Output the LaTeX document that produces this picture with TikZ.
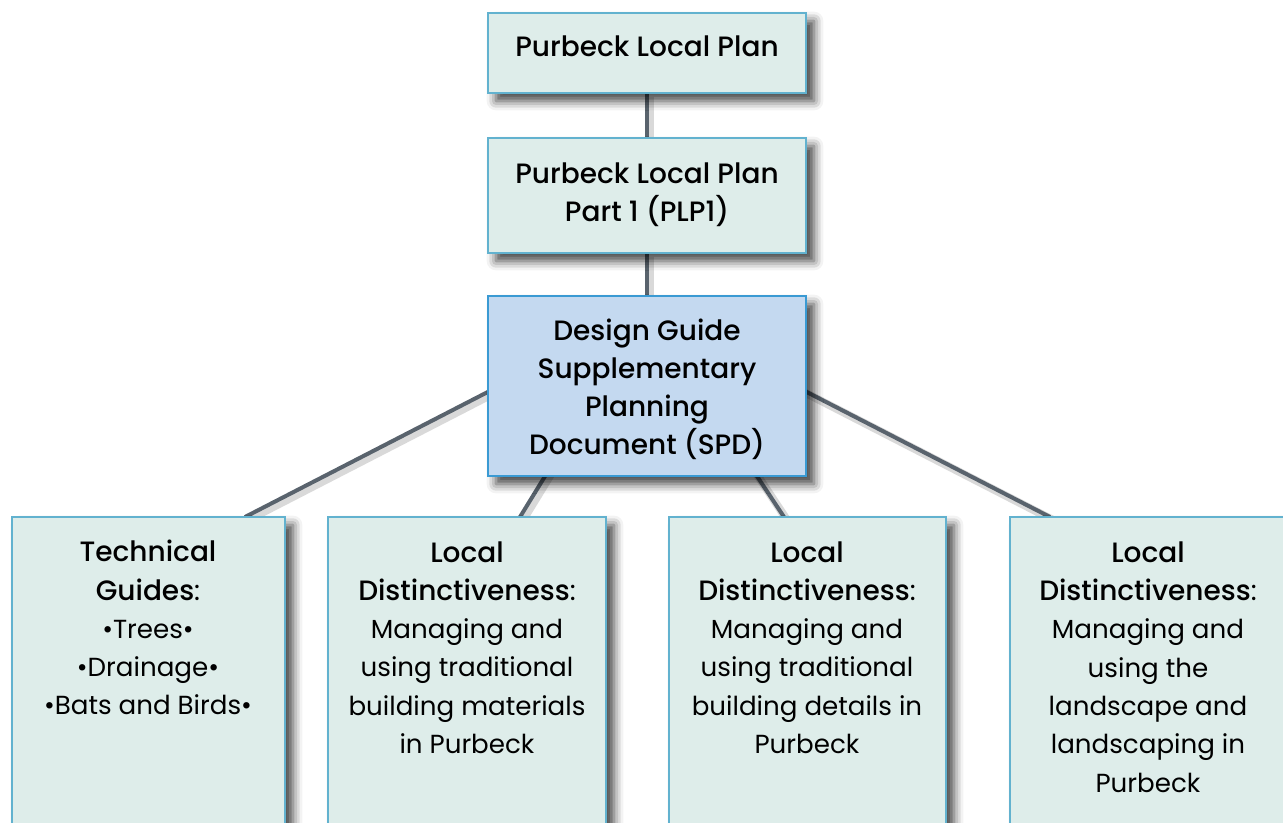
\documentclass[tikz,border=0pt]{standalone}
\usepackage{fontspec}
\setmainfont{Poppins}[BoldFont={Poppins Medium}]
\usetikzlibrary{shadows.blur,backgrounds}
\definecolor{boxfill}{HTML}{DEEDEA}
\definecolor{boxedge}{HTML}{62B2CF}
\definecolor{spdfill}{HTML}{C4D9F0}
\definecolor{spdedge}{HTML}{3A9AD3}
\definecolor{link}{HTML}{59636D}
% lighter, slightly smaller face for the descriptive lines
\newcommand\bodyfont{\fontsize{19.6}{28.7}\selectfont}
\begin{document}
\begin{tikzpicture}[x=0.75pt,y=-0.75pt,
  panel/.style={draw=boxedge, line width=0.8pt, fill=boxfill, inner sep=0pt,
    blur shadow={shadow xshift=6pt, shadow yshift=-6pt, shadow blur radius=7pt, shadow opacity=75}},
  spdpanel/.style={panel, draw=spdedge, fill=spdfill},
  label/.style={align=center, anchor=base, inner sep=0pt,
    font=\fontsize{21}{28.7}\selectfont},
  link/.style={draw=link, line width=3pt},
  linkshade/.style={draw=black, opacity=0.15, line width=6pt}
]
\useasboundingbox (0,0) rectangle (1283,823);
\clip (0,0) rectangle (1283,823);

% hierarchy boxes
\node[panel, minimum width=238.5pt, minimum height=60pt] (plan) at (647,53) {};
\node[panel, minimum width=238.5pt, minimum height=86.25pt] (plp1) at (647,195.5) {};
\node[spdpanel, minimum width=238.5pt, minimum height=135pt] (spd) at (647,386) {};
\node[panel, minimum width=204.75pt, minimum height=264.75pt] (tech) at (148.5,693.5) {};
\node[panel, minimum width=208.5pt, minimum height=264.75pt] (mats) at (467,693.5) {};
\node[panel, minimum width=207.75pt, minimum height=264.75pt] (dets) at (807.5,693.5) {};
\node[panel, minimum width=207pt, minimum height=264.75pt] (land) at (1148,693.5) {};

% box texts (anchored on the baseline of the last line)
\node[label] (plan-t) at (647,57) {\bfseries Purbeck Local Plan};
\node[label] (plp1-t) at (647,222) {\bfseries Purbeck Local Plan\\\bfseries Part 1 (PLP1)};
\node[label] (spd-t) at (647,455) {\bfseries Design Guide\\\bfseries Supplementary\\\bfseries Planning\\\bfseries Document (SPD)};
\node[label] (tech-t) at (148,715) {\textbf{Technical}\\\textbf{Guides}:\\\bodyfont\textbullet Trees\textbullet\\\bodyfont\textbullet Drainage\textbullet\\\bodyfont\textbullet Bats and Birds\textbullet};
\node[label] (mats-t) at (467,753.5) {\textbf{Local}\\\textbf{Distinctiveness}:\\\bodyfont Managing and\\\bodyfont using traditional\\\bodyfont building materials\\\bodyfont in Purbeck};
\node[label] (dets-t) at (807,753.5) {\textbf{Local}\\\textbf{Distinctiveness}:\\\bodyfont Managing and\\\bodyfont using traditional\\\bodyfont building details in\\\bodyfont Purbeck};
\node[label] (land-t) at (1148,792) {\textbf{Local}\\\textbf{Distinctiveness}:\\\bodyfont Managing and\\\bodyfont using the\\\bodyfont landscape and\\\bodyfont landscaping in\\\bodyfont Purbeck};

% connector ends
\coordinate (hub) at (647,310);
\coordinate (e1) at (245,517);
\coordinate (e2) at (520,517);
\coordinate (e3) at (784,517);
\coordinate (e4) at (1050,517);

\begin{scope}[on background layer]
  \foreach \a/\b in {plan/plp1, plp1/spd}
    \draw[linkshade] ([shift={(3,3)}]\a.south) -- ([shift={(3,3)}]\b.north);
  \foreach \e in {e1,e2,e3,e4}
    \draw[linkshade] ([shift={(3,3)}]hub) -- ([shift={(3,3)}]\e);
  \draw[link] (plan.south) -- (plp1.north);
  \draw[link] (plp1.south) -- (spd.north);
  \foreach \e in {e1,e2,e3,e4}
    \draw[link] (hub) -- (\e);
\end{scope}
\end{tikzpicture}
\end{document}
